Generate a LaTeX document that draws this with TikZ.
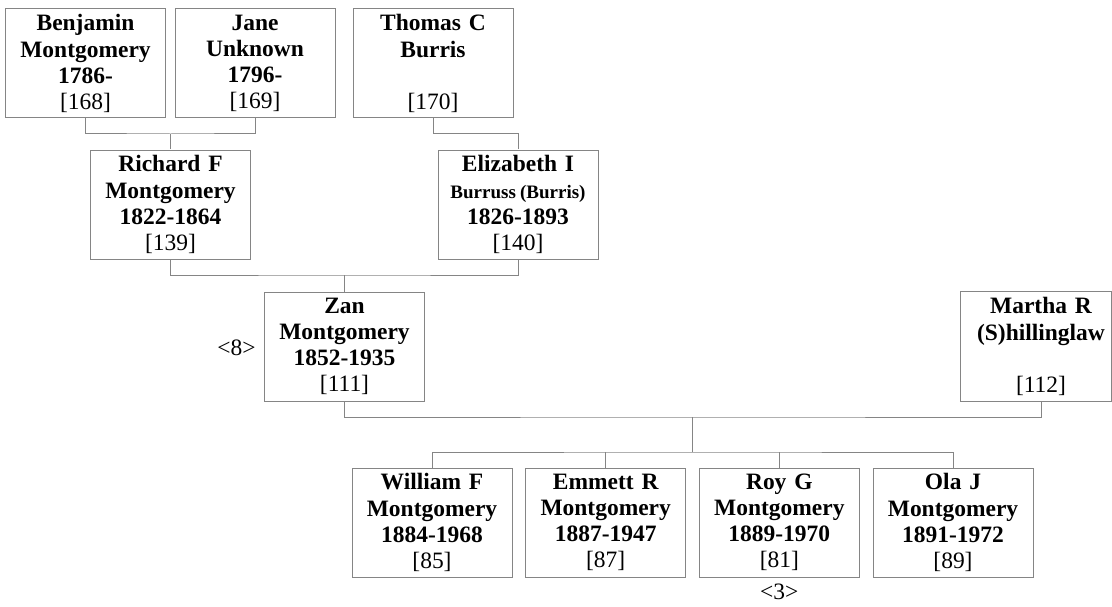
\documentclass[tikz,border=0pt]{standalone}
\usepackage{fontspec}
\setmainfont{Liberation Serif}
\definecolor{boxgray}{HTML}{858585}
\begin{document}
\begin{tikzpicture}[x=0.75pt,y=-0.75pt,
  person/.style={draw=boxgray, line width=0.75pt, minimum width=120pt, minimum height=81.75pt,
    inner sep=0pt, align=center, text width=118pt, font=\fontsize{17.6}{19.6}\selectfont},
  link/.style={draw=boxgray, line width=0.75pt},
  tag/.style={inner sep=0pt, font=\fontsize{17.6}{19.6}\selectfont}]
\useasboundingbox (0,0) rectangle (1112,606);
% generation 1
\node[person] (ben) at (85.5,63.5) {\bfseries Benjamin\\Montgomery\\1786-\\{\mdseries[168]}};
\node[person] (jane) at (255,63.5) {\bfseries Jane\\Unknown\\1796-\\{\mdseries[169]}};
\node[person] (thomas) at (433,63.5) {\bfseries Thomas C\\Burris\\\mbox{}\\{\mdseries[170]}};
% generation 2
\node[person] (richard) at (170.5,204.5) {\bfseries Richard F\\Montgomery\\1822-1864\\{\mdseries[139]}};
\node[person] (eliz) at (518,204.5) {\bfseries Elizabeth I\\\mbox{\fontsize{14.25}{19.6}\selectfont Burruss\hspace{0.22em}(Burris)}\\1826-1893\\{\mdseries[140]}};
% generation 3
\node[person] (zan) at (344.5,346.5) {\bfseries Zan\\Montgomery\\1852-1935\\{\mdseries[111]}};
\node[person, draw=none] (martha) at (1041,346.5) {\bfseries Martha R\\(S)hillinglaw\\\mbox{}\\{\mdseries[112]}};
\coordinate (mre) at (1111.6,0);
\draw[link] (martha.north west) -- (martha.north west -| mre) -- (martha.south west -| mre) -- (martha.south west) -- cycle;
\node[tag] (t8) at (236.5,348) {<8>};
% generation 4
\node[person] (william) at (432,522.5) {\bfseries William F\\Montgomery\\1884-1968\\{\mdseries[85]}};
\node[person] (emmett) at (605.7,522.5) {\bfseries Emmett R\\Montgomery\\1887-1947\\{\mdseries[87]}};
\node[person] (roy) at (779.3,522.5) {\bfseries Roy G\\Montgomery\\1889-1970\\{\mdseries[81]}};
\node[person] (ola) at (953,522.5) {\bfseries Ola J\\Montgomery\\1891-1972\\{\mdseries[89]}};
\node[tag] (t3) at (779.3,592) {<3>};
% junctions
\coordinate (j1) at (170.5,134);
\coordinate (j2) at (344.5,275);
\coordinate (j3) at (692.75,417);
\coordinate (j4) at (692.75,452);
% connectors
\draw[link] (ben.south) |- (j1) -| (jane.south);
\draw[link] (j1) -- (richard.north);
\draw[link] (thomas.south) |- (eliz.north |- j1) -- (eliz.north);
\draw[link] (richard.south) |- (j2) -| (eliz.south);
\draw[link] (j2) -- (zan.north);
\draw[link] (zan.south) |- (j3) -| (martha.south);
\draw[link] (j3) -- (j4);
\draw[link] (william.north) |- (j4) -| (ola.north);
\draw[link] (emmett.north) -- (emmett.north |- j4);
\draw[link] (roy.north) -- (roy.north |- j4);
\end{tikzpicture}
\end{document}
